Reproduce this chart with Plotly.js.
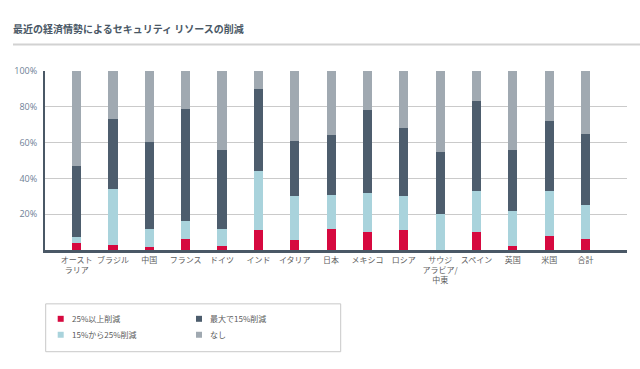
<!DOCTYPE html>
<html>
<head>
<meta charset="utf-8">
<script src="https://cdn.plot.ly/plotly-3.0.1.min.js"></script>
<style>html,body{margin:0;padding:0;background:#fff;}#chart{width:640px;height:369px;}</style>
</head>
<body>
<div id="chart"></div>
<script>
const categories = ["オースト<br>ラリア","ブラジル","中国","フランス","ドイツ","インド","イタリア","日本","メキシコ","ロシア","サウジ<br>アラビア/<br>中東","スペイン","英国","米国","合計"];
const seriesNames = ["25%以上削減","15%から25%削減","最大で15%削減","なし"];
const cut25plus = [4,3,1.5,6,2,11,5.5,12,10,11,0,10,2,8,6];
const cut15to25 = [3.5,31,10,10,9.5,33,24.5,19,22,19,20,23,20,25,19];
const cutUpTo15 = [39.5,39,49,63,44.5,46,31,33.5,46,38,35,50,34,39,40];
const noCut = [53,27,39.5,21,44,10,39,35.5,22,32,45,17,44,28,35];
const yTickVals = [20,40,60,80,100];
const yTickText = ["20%","40%","60%","80%","100%"];
const colors = ["#d6093f","#a9d3dc","#4d5d6d","#a0a9b1"];

const seriesData = [cut25plus, cut15to25, cutUpTo15, noCut];
const traces = seriesData.map((vals, i) => ({
  type: "bar",
  name: seriesNames[i],
  x: categories,
  y: vals,
  width: 0.25,
  marker: {color: colors[i], line: {width: 0}},
  showlegend: false,
  hoverinfo: "x+y+name"
}));

// pixel -> paper helpers (plot area: x 45..627, y 70.5..250)
const L = 45, R = 13, T = 70.5, B = 119, W = 640, H = 369;
const pw = W - L - R, ph = H - T - B;
const px = v => (v - L) / pw;
const py = v => (H - B - v) / ph;

const shapes = [
  {type: "line", xref: "paper", yref: "paper", x0: px(13), x1: px(640), y0: py(44), y1: py(44), line: {color: "#d2d2d2", width: 2}},
  {type: "rect", xref: "paper", yref: "paper", x0: px(45.7), x1: px(340.7), y0: py(304), y1: py(352), line: {color: "#c8c8c8", width: 1}, fillcolor: "rgba(0,0,0,0)"}
];
const legendPos = [[60.7,319],[60.7,335],[199,319],[199,335]];
const annotations = [];
seriesNames.forEach((n, i) => {
  const [cx, cy] = legendPos[i];
  shapes.push({type: "rect", xref: "paper", yref: "paper", x0: px(cx-3), x1: px(cx+3), y0: py(cy-3), y1: py(cy+3), line: {width: 0}, fillcolor: colors[i]});
  annotations.push({xref: "paper", yref: "paper", x: px(cx+9), y: py(cy), xanchor: "left", yanchor: "middle", text: n, showarrow: false, font: {size: 8, color: "#5a5a5a", family: "Noto Sans CJK JP, Noto Sans, sans-serif"}});
});

const layout = {
  width: W, height: H,
  margin: {l: L, r: R, t: T, b: B, pad: 0},
  paper_bgcolor: "#ffffff", plot_bgcolor: "#ffffff",
  barmode: "stack",
  title: {text: "<b>最近の経済情勢によるセキュリティ リソースの削減</b>", x: 13/W, xanchor: "left", xref: "container", y: 1 - 29/H, yanchor: "middle", yref: "container", font: {size: 10, color: "#4a5866", family: "Noto Sans CJK JP, sans-serif"}},
  font: {family: "Noto Sans CJK JP, Noto Sans, sans-serif"},
  xaxis: {
    type: "category",
    range: [-0.87, 15.14],
    showline: true, linecolor: "#4a5866", linewidth: 3,
    showgrid: false, ticks: "", ticklen: 0,
    tickfont: {size: 8, color: "#5e5e5e"},
    fixedrange: true
  },
  yaxis: {
    range: [0, 100],
    tickvals: yTickVals, ticktext: yTickText,
    showline: true, linecolor: "#4a5866", linewidth: 2,
    showgrid: true, gridcolor: "#cacaca", gridwidth: 1,
    zeroline: false, ticks: "",
    tickfont: {size: 9, color: "#6f8196", family: "Open Sans, Noto Sans, sans-serif"},
    ticklabelstandoff: 4,
    fixedrange: true
  },
  shapes: shapes,
  annotations: annotations
};

Plotly.newPlot("chart", traces, layout, {displayModeBar: false, staticPlot: true});
</script>
</body>
</html>
